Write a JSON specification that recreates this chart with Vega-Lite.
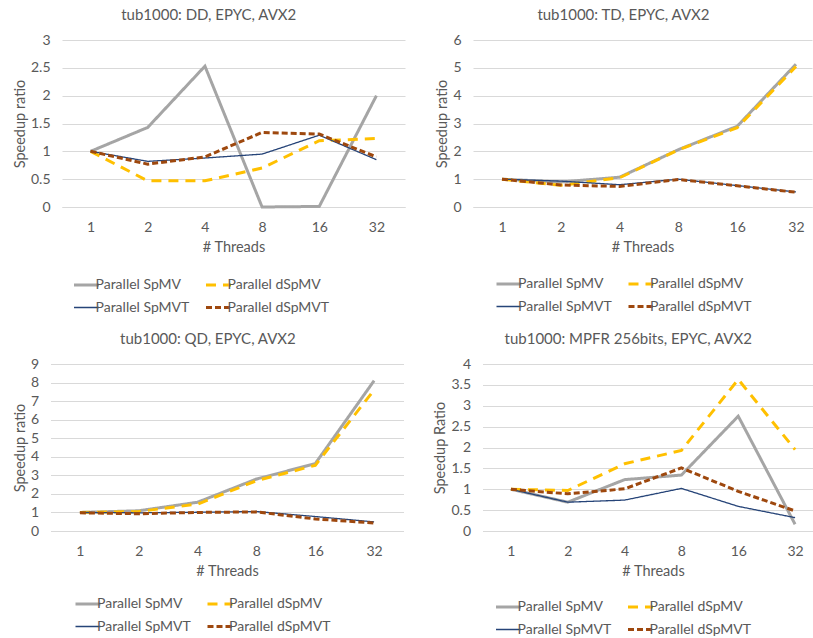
{
  "$schema": "https://vega.github.io/schema/vega-lite/v6.json",
  "padding": {"left": 11.5, "top": 8, "right": 0, "bottom": 0},
  "config": {
    "font": "Lato",
    "view": {"stroke": null},
    "axis": {"labelColor": "#595959", "labelFontSize": 14, "titleColor": "#595959", "titleFontSize": 14.5, "titleFontWeight": "normal", "gridColor": "#D9D9D9", "ticks": false, "domain": false, "labelFont": "Lato", "titleFont": "Lato"},
    "axisX": {"domain": true, "domainColor": "#D9D9D9", "grid": false, "labelAngle": 0, "labelPadding": 13, "titlePadding": 6},
    "axisY": {"labelPadding": 12, "titlePadding": 3, "gridColor": "#D9D9D9"},
    "title": {"fontSize": 15, "fontWeight": "normal", "color": "#595959", "frame": "bounds", "offset": 10, "font": "Lato"},
    "legend": {"labelFontSize": 14, "labelColor": "#595959", "labelFont": "Lato", "symbolType": "stroke", "symbolSize": 625, "columns": 2, "direction": "horizontal", "columnPadding": 10, "rowPadding": 8.5, "labelOffset": 2, "padding": 0, "symbolStrokeWidth": 3}
  },
  "data": {"values": [
    {"panel": "DD", "series": "Parallel SpMV", "threads": 1, "speedup": 1.0},
    {"panel": "DD", "series": "Parallel SpMV", "threads": 2, "speedup": 1.43},
    {"panel": "DD", "series": "Parallel SpMV", "threads": 4, "speedup": 2.53},
    {"panel": "DD", "series": "Parallel SpMV", "threads": 8, "speedup": 0.0},
    {"panel": "DD", "series": "Parallel SpMV", "threads": 16, "speedup": 0.01},
    {"panel": "DD", "series": "Parallel SpMV", "threads": 32, "speedup": 2.0},
    {"panel": "DD", "series": "Parallel dSpMV", "threads": 1, "speedup": 1.0},
    {"panel": "DD", "series": "Parallel dSpMV", "threads": 2, "speedup": 0.47},
    {"panel": "DD", "series": "Parallel dSpMV", "threads": 4, "speedup": 0.47},
    {"panel": "DD", "series": "Parallel dSpMV", "threads": 8, "speedup": 0.7},
    {"panel": "DD", "series": "Parallel dSpMV", "threads": 16, "speedup": 1.19},
    {"panel": "DD", "series": "Parallel dSpMV", "threads": 32, "speedup": 1.23},
    {"panel": "DD", "series": "Parallel SpMVT", "threads": 1, "speedup": 1.0},
    {"panel": "DD", "series": "Parallel SpMVT", "threads": 2, "speedup": 0.82},
    {"panel": "DD", "series": "Parallel SpMVT", "threads": 4, "speedup": 0.88},
    {"panel": "DD", "series": "Parallel SpMVT", "threads": 8, "speedup": 0.95},
    {"panel": "DD", "series": "Parallel SpMVT", "threads": 16, "speedup": 1.29},
    {"panel": "DD", "series": "Parallel SpMVT", "threads": 32, "speedup": 0.85},
    {"panel": "DD", "series": "Parallel dSpMVT", "threads": 1, "speedup": 1.0},
    {"panel": "DD", "series": "Parallel dSpMVT", "threads": 2, "speedup": 0.77},
    {"panel": "DD", "series": "Parallel dSpMVT", "threads": 4, "speedup": 0.9},
    {"panel": "DD", "series": "Parallel dSpMVT", "threads": 8, "speedup": 1.34},
    {"panel": "DD", "series": "Parallel dSpMVT", "threads": 16, "speedup": 1.31},
    {"panel": "DD", "series": "Parallel dSpMVT", "threads": 32, "speedup": 0.9},

    {"panel": "TD", "series": "Parallel SpMV", "threads": 1, "speedup": 1.0},
    {"panel": "TD", "series": "Parallel SpMV", "threads": 2, "speedup": 0.9},
    {"panel": "TD", "series": "Parallel SpMV", "threads": 4, "speedup": 1.07},
    {"panel": "TD", "series": "Parallel SpMV", "threads": 8, "speedup": 2.06},
    {"panel": "TD", "series": "Parallel SpMV", "threads": 16, "speedup": 2.9},
    {"panel": "TD", "series": "Parallel SpMV", "threads": 32, "speedup": 5.13},
    {"panel": "TD", "series": "Parallel dSpMV", "threads": 1, "speedup": 1.0},
    {"panel": "TD", "series": "Parallel dSpMV", "threads": 2, "speedup": 0.78},
    {"panel": "TD", "series": "Parallel dSpMV", "threads": 4, "speedup": 1.05},
    {"panel": "TD", "series": "Parallel dSpMV", "threads": 8, "speedup": 2.05},
    {"panel": "TD", "series": "Parallel dSpMV", "threads": 16, "speedup": 2.85},
    {"panel": "TD", "series": "Parallel dSpMV", "threads": 32, "speedup": 5.05},
    {"panel": "TD", "series": "Parallel SpMVT", "threads": 1, "speedup": 1.0},
    {"panel": "TD", "series": "Parallel SpMVT", "threads": 2, "speedup": 0.93},
    {"panel": "TD", "series": "Parallel SpMVT", "threads": 4, "speedup": 0.8},
    {"panel": "TD", "series": "Parallel SpMVT", "threads": 8, "speedup": 1.0},
    {"panel": "TD", "series": "Parallel SpMVT", "threads": 16, "speedup": 0.77},
    {"panel": "TD", "series": "Parallel SpMVT", "threads": 32, "speedup": 0.54},
    {"panel": "TD", "series": "Parallel dSpMVT", "threads": 1, "speedup": 1.0},
    {"panel": "TD", "series": "Parallel dSpMVT", "threads": 2, "speedup": 0.79},
    {"panel": "TD", "series": "Parallel dSpMVT", "threads": 4, "speedup": 0.74},
    {"panel": "TD", "series": "Parallel dSpMVT", "threads": 8, "speedup": 0.99},
    {"panel": "TD", "series": "Parallel dSpMVT", "threads": 16, "speedup": 0.76},
    {"panel": "TD", "series": "Parallel dSpMVT", "threads": 32, "speedup": 0.53},

    {"panel": "QD", "series": "Parallel SpMV", "threads": 1, "speedup": 1.0},
    {"panel": "QD", "series": "Parallel SpMV", "threads": 2, "speedup": 1.09},
    {"panel": "QD", "series": "Parallel SpMV", "threads": 4, "speedup": 1.55},
    {"panel": "QD", "series": "Parallel SpMV", "threads": 8, "speedup": 2.8},
    {"panel": "QD", "series": "Parallel SpMV", "threads": 16, "speedup": 3.63},
    {"panel": "QD", "series": "Parallel SpMV", "threads": 32, "speedup": 8.1},
    {"panel": "QD", "series": "Parallel dSpMV", "threads": 1, "speedup": 1.0},
    {"panel": "QD", "series": "Parallel dSpMV", "threads": 2, "speedup": 1.05},
    {"panel": "QD", "series": "Parallel dSpMV", "threads": 4, "speedup": 1.45},
    {"panel": "QD", "series": "Parallel dSpMV", "threads": 8, "speedup": 2.71},
    {"panel": "QD", "series": "Parallel dSpMV", "threads": 16, "speedup": 3.54},
    {"panel": "QD", "series": "Parallel dSpMV", "threads": 32, "speedup": 7.6},
    {"panel": "QD", "series": "Parallel SpMVT", "threads": 1, "speedup": 1.0},
    {"panel": "QD", "series": "Parallel SpMVT", "threads": 2, "speedup": 0.98},
    {"panel": "QD", "series": "Parallel SpMVT", "threads": 4, "speedup": 1.01},
    {"panel": "QD", "series": "Parallel SpMVT", "threads": 8, "speedup": 1.05},
    {"panel": "QD", "series": "Parallel SpMVT", "threads": 16, "speedup": 0.78},
    {"panel": "QD", "series": "Parallel SpMVT", "threads": 32, "speedup": 0.49},
    {"panel": "QD", "series": "Parallel dSpMVT", "threads": 1, "speedup": 0.98},
    {"panel": "QD", "series": "Parallel dSpMVT", "threads": 2, "speedup": 0.93},
    {"panel": "QD", "series": "Parallel dSpMVT", "threads": 4, "speedup": 1.0},
    {"panel": "QD", "series": "Parallel dSpMVT", "threads": 8, "speedup": 1.03},
    {"panel": "QD", "series": "Parallel dSpMVT", "threads": 16, "speedup": 0.65},
    {"panel": "QD", "series": "Parallel dSpMVT", "threads": 32, "speedup": 0.43},

    {"panel": "MPFR", "series": "Parallel SpMV", "threads": 1, "speedup": 1.0},
    {"panel": "MPFR", "series": "Parallel SpMV", "threads": 2, "speedup": 0.69},
    {"panel": "MPFR", "series": "Parallel SpMV", "threads": 4, "speedup": 1.23},
    {"panel": "MPFR", "series": "Parallel SpMV", "threads": 8, "speedup": 1.34},
    {"panel": "MPFR", "series": "Parallel SpMV", "threads": 16, "speedup": 2.75},
    {"panel": "MPFR", "series": "Parallel SpMV", "threads": 32, "speedup": 0.16},
    {"panel": "MPFR", "series": "Parallel dSpMV", "threads": 1, "speedup": 1.0},
    {"panel": "MPFR", "series": "Parallel dSpMV", "threads": 2, "speedup": 0.97},
    {"panel": "MPFR", "series": "Parallel dSpMV", "threads": 4, "speedup": 1.61},
    {"panel": "MPFR", "series": "Parallel dSpMV", "threads": 8, "speedup": 1.93},
    {"panel": "MPFR", "series": "Parallel dSpMV", "threads": 16, "speedup": 3.63},
    {"panel": "MPFR", "series": "Parallel dSpMV", "threads": 32, "speedup": 1.95},
    {"panel": "MPFR", "series": "Parallel SpMVT", "threads": 1, "speedup": 1.0},
    {"panel": "MPFR", "series": "Parallel SpMVT", "threads": 2, "speedup": 0.69},
    {"panel": "MPFR", "series": "Parallel SpMVT", "threads": 4, "speedup": 0.74},
    {"panel": "MPFR", "series": "Parallel SpMVT", "threads": 8, "speedup": 1.02},
    {"panel": "MPFR", "series": "Parallel SpMVT", "threads": 16, "speedup": 0.59},
    {"panel": "MPFR", "series": "Parallel SpMVT", "threads": 32, "speedup": 0.32},
    {"panel": "MPFR", "series": "Parallel dSpMVT", "threads": 1, "speedup": 1.0},
    {"panel": "MPFR", "series": "Parallel dSpMVT", "threads": 2, "speedup": 0.89},
    {"panel": "MPFR", "series": "Parallel dSpMVT", "threads": 4, "speedup": 1.01},
    {"panel": "MPFR", "series": "Parallel dSpMVT", "threads": 8, "speedup": 1.51},
    {"panel": "MPFR", "series": "Parallel dSpMVT", "threads": 16, "speedup": 0.95},
    {"panel": "MPFR", "series": "Parallel dSpMVT", "threads": 32, "speedup": 0.48}
  ]},
  "resolve": {"scale": {"x": "independent", "y": "independent", "color": "independent", "strokeDash": "independent"}, "legend": {"color": "independent", "strokeDash": "independent"}, "axis": {"x": "independent", "y": "independent"}},
  "spacing": 17,
  "center": true,
  "vconcat": [
    {
      "spacing": 29,
      "resolve": {"scale": {"x": "independent", "y": "independent", "color": "independent", "strokeDash": "independent"}, "legend": {"color": "independent", "strokeDash": "independent"}, "axis": {"x": "independent", "y": "independent"}},
      "hconcat": [
        {
          "width": 343, "height": 167,
          "title": "tub1000: DD, EPYC, AVX2",
          "transform": [{"filter": "datum.panel === 'DD'"}],
          "encoding": {
            "x": {"field": "threads", "type": "ordinal", "title": "# Threads", "scale": {"type": "point", "padding": 0.5}},
            "y": {"field": "speedup", "type": "quantitative", "title": "Speedup ratio", "scale": {"domain": [0, 3]}, "axis": {"values": [0, 0.5, 1, 1.5, 2, 2.5, 3], "format": "~g"}},
            "color": {"field": "series", "type": "nominal", "scale": {"domain": ["Parallel SpMV", "Parallel dSpMV", "Parallel SpMVT", "Parallel dSpMVT"], "range": ["#A5A5A5", "#FFC000", "#264478", "#9E480E"]}, "legend": {"title": null, "orient": "none", "legendX": 17.5, "legendY": 238, "encode": {"symbols": {"update": {"strokeWidth": {"signal": "datum.value === 'Parallel SpMVT' ? 1.3 : 3"}}}}}},
            "strokeDash": {"field": "series", "type": "nominal", "scale": {"domain": ["Parallel SpMV", "Parallel dSpMV", "Parallel SpMVT", "Parallel dSpMVT"], "range": [[1, 0], [10, 7], [1, 0], [6, 3]]}, "legend": {"title": null, "orient": "none", "legendX": 17.5, "legendY": 238}}
          },
          "layer": [
            {"transform": [{"filter": "datum.series === 'Parallel SpMV' || datum.series === 'Parallel dSpMV'"}], "mark": {"type": "line", "strokeWidth": 3}},
            {"transform": [{"filter": "datum.series === 'Parallel SpMVT'"}], "mark": {"type": "line", "strokeWidth": 1.3}},
            {"transform": [{"filter": "datum.series === 'Parallel dSpMVT'"}], "mark": {"type": "line", "strokeWidth": 3}}
          ]
        },
        {
          "resolve": {"scale": {"x": "independent", "y": "independent", "color": "independent", "strokeDash": "independent"}, "legend": {"color": "independent", "strokeDash": "independent"}, "axis": {"x": "independent", "y": "independent"}},
          "hconcat": [
            {
              "width": 339, "height": 167,
              "title": "tub1000: TD, EPYC, AVX2",
              "transform": [{"filter": "datum.panel === 'TD'"}],
              "encoding": {
                "x": {"field": "threads", "type": "ordinal", "title": "# Threads", "scale": {"type": "point", "padding": 0.383, "align": 0.644}},
                "y": {"field": "speedup", "type": "quantitative", "title": "Speedup ratio", "scale": {"domain": [0, 6]}, "axis": {"values": [0, 1, 2, 3, 4, 5, 6], "format": "~g"}},
                "color": {"field": "series", "type": "nominal", "scale": {"domain": ["Parallel SpMV", "Parallel dSpMV", "Parallel SpMVT", "Parallel dSpMVT"], "range": ["#A5A5A5", "#FFC000", "#264478", "#9E480E"]}, "legend": {"title": null, "orient": "none", "legendX": 29, "legendY": 237, "encode": {"symbols": {"update": {"strokeWidth": {"signal": "datum.value === 'Parallel SpMVT' ? 1.3 : 3"}}}}}},
                "strokeDash": {"field": "series", "type": "nominal", "scale": {"domain": ["Parallel SpMV", "Parallel dSpMV", "Parallel SpMVT", "Parallel dSpMVT"], "range": [[1, 0], [10, 7], [1, 0], [6, 3]]}, "legend": {"title": null, "orient": "none", "legendX": 29, "legendY": 237}}
              },
              "layer": [
                {"transform": [{"filter": "datum.series === 'Parallel SpMV' || datum.series === 'Parallel dSpMV'"}], "mark": {"type": "line", "strokeWidth": 3}},
                {"transform": [{"filter": "datum.series === 'Parallel SpMVT'"}], "mark": {"type": "line", "strokeWidth": 1.3}},
                {"transform": [{"filter": "datum.series === 'Parallel dSpMVT'"}], "mark": {"type": "line", "strokeWidth": 3}}
              ]
            }
          ]
        }
      ]
    },
    {
      "spacing": 29,
      "resolve": {"scale": {"x": "independent", "y": "independent", "color": "independent", "strokeDash": "independent"}, "legend": {"color": "independent", "strokeDash": "independent"}, "axis": {"x": "independent", "y": "independent"}},
      "hconcat": [
        {
          "width": 353, "height": 167,
          "title": "tub1000: QD, EPYC, AVX2",
          "transform": [{"filter": "datum.panel === 'QD'"}],
          "encoding": {
            "x": {"field": "threads", "type": "ordinal", "title": "# Threads", "scale": {"type": "point", "padding": 0.5}},
            "y": {"field": "speedup", "type": "quantitative", "title": "Speedup ratio", "scale": {"domain": [0, 9]}, "axis": {"values": [0, 1, 2, 3, 4, 5, 6, 7, 8, 9], "format": "~g"}},
            "color": {"field": "series", "type": "nominal", "scale": {"domain": ["Parallel SpMV", "Parallel dSpMV", "Parallel SpMVT", "Parallel dSpMVT"], "range": ["#A5A5A5", "#FFC000", "#264478", "#9E480E"]}, "legend": {"title": null, "orient": "none", "legendX": 30.5, "legendY": 233, "encode": {"symbols": {"update": {"strokeWidth": {"signal": "datum.value === 'Parallel SpMVT' ? 1.3 : 3"}}}}}},
            "strokeDash": {"field": "series", "type": "nominal", "scale": {"domain": ["Parallel SpMV", "Parallel dSpMV", "Parallel SpMVT", "Parallel dSpMVT"], "range": [[1, 0], [10, 7], [1, 0], [6, 3]]}, "legend": {"title": null, "orient": "none", "legendX": 30.5, "legendY": 233}}
          },
          "layer": [
            {"transform": [{"filter": "datum.series === 'Parallel SpMV' || datum.series === 'Parallel dSpMV'"}], "mark": {"type": "line", "strokeWidth": 3}},
            {"transform": [{"filter": "datum.series === 'Parallel SpMVT'"}], "mark": {"type": "line", "strokeWidth": 1.3}},
            {"transform": [{"filter": "datum.series === 'Parallel dSpMVT'"}], "mark": {"type": "line", "strokeWidth": 3}}
          ]
        },
        {
          "resolve": {"scale": {"x": "independent", "y": "independent", "color": "independent", "strokeDash": "independent"}, "legend": {"color": "independent", "strokeDash": "independent"}, "axis": {"x": "independent", "y": "independent"}},
          "hconcat": [
            {
              "width": 341, "height": 167,
              "title": "tub1000: MPFR 256bits, EPYC, AVX2",
              "transform": [{"filter": "datum.panel === 'MPFR'"}],
              "encoding": {
                "x": {"field": "threads", "type": "ordinal", "title": "# Threads", "scale": {"type": "point", "padding": 0.5}},
                "y": {"field": "speedup", "type": "quantitative", "title": "Speedup Ratio", "scale": {"domain": [0, 4]}, "axis": {"values": [0, 0.5, 1, 1.5, 2, 2.5, 3, 3.5, 4], "format": "~g"}},
                "color": {"field": "series", "type": "nominal", "scale": {"domain": ["Parallel SpMV", "Parallel dSpMV", "Parallel SpMVT", "Parallel dSpMVT"], "range": ["#A5A5A5", "#FFC000", "#264478", "#9E480E"]}, "legend": {"title": null, "orient": "none", "legendX": 19, "legendY": 236, "encode": {"symbols": {"update": {"strokeWidth": {"signal": "datum.value === 'Parallel SpMVT' ? 1.3 : 3"}}}}}},
                "strokeDash": {"field": "series", "type": "nominal", "scale": {"domain": ["Parallel SpMV", "Parallel dSpMV", "Parallel SpMVT", "Parallel dSpMVT"], "range": [[1, 0], [10, 7], [1, 0], [6, 3]]}, "legend": {"title": null, "orient": "none", "legendX": 19, "legendY": 236}}
              },
              "layer": [
                {"transform": [{"filter": "datum.series === 'Parallel SpMV' || datum.series === 'Parallel dSpMV'"}], "mark": {"type": "line", "strokeWidth": 3}},
                {"transform": [{"filter": "datum.series === 'Parallel SpMVT'"}], "mark": {"type": "line", "strokeWidth": 1.3}},
                {"transform": [{"filter": "datum.series === 'Parallel dSpMVT'"}], "mark": {"type": "line", "strokeWidth": 3}}
              ]
            }
          ]
        }
      ]
    }
  ]
}
